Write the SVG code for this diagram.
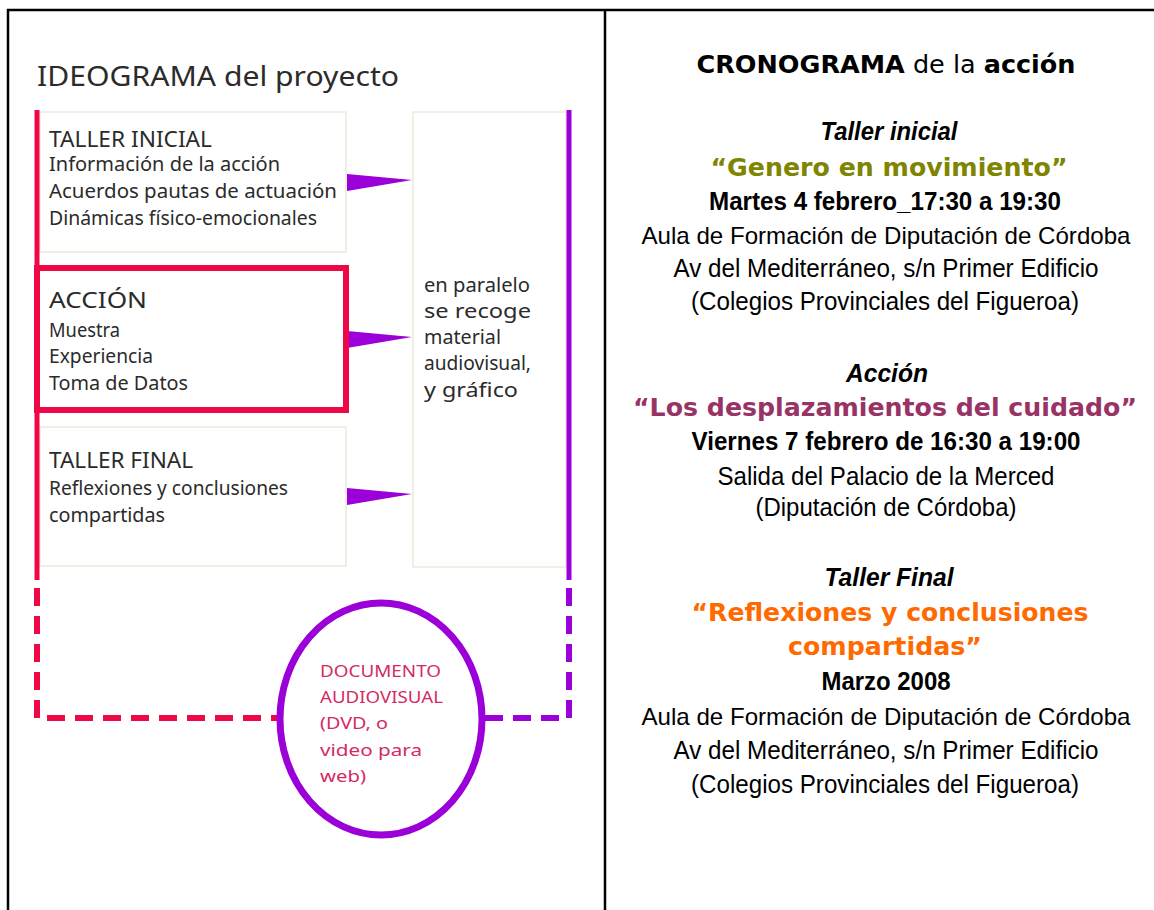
<svg xmlns="http://www.w3.org/2000/svg" width="1154" height="910" viewBox="0 0 1154 910">
<style>
  .frame{stroke:#000;stroke-width:2.5;fill:none}
  .box{fill:#fff;stroke:#ebeadb;stroke-width:1.5}
  .lt{font-family:"Noto Sans","DejaVu Sans",sans-serif;fill:#2b2b2b}
  .hd{font-size:22px}
  .bd{font-size:19px}
  .red{stroke:#ef0846;fill:none}
  .pur{stroke:#9b00d8;fill:none}
  .arrow{fill:#9b00d8}
  .doc{font-family:"Noto Sans","DejaVu Sans",sans-serif;font-size:17px;fill:#d42a63}
  .rt{font-family:"Liberation Sans Narrow","Liberation Sans",Arial,sans-serif;font-size:26px;fill:#000;text-anchor:middle}
  .long{font-size:24px}
  .b{font-weight:bold}
  .it{font-style:italic}
  .vd{font-family:"DejaVu Sans",Verdana,sans-serif;font-weight:bold;font-size:25px;text-anchor:middle}
</style>
<defs>
  <polygon id="tri" points="0,0 65,6 0,17"/>
</defs>
<g id="frame">
  <line class="frame" x1="7" y1="10" x2="1154" y2="10"/>
  <line class="frame" x1="8" y1="9" x2="8" y2="910"/>
  <line class="frame" x1="605" y1="9" x2="605" y2="910"/>
</g>
<g id="title">
  <text class="lt" x="37" y="86" font-size="28" textLength="362" lengthAdjust="spacingAndGlyphs">IDEOGRAMA del proyecto</text>
</g>
<g id="taller-inicial">
  <rect class="box" x="40" y="112" width="306" height="140"/>
  <text class="lt hd" x="49" y="147" textLength="163" lengthAdjust="spacingAndGlyphs">TALLER INICIAL</text>
  <text class="lt bd" x="49" y="171" textLength="231" lengthAdjust="spacingAndGlyphs">Información de la acción</text>
  <text class="lt bd" x="49" y="198" textLength="288" lengthAdjust="spacingAndGlyphs">Acuerdos pautas de actuación</text>
  <text class="lt bd" x="49" y="225" textLength="268" lengthAdjust="spacingAndGlyphs">Dinámicas físico-emocionales</text>
</g>
<g id="taller-final">
  <rect class="box" x="40" y="427" width="306" height="139"/>
  <text class="lt hd" x="49" y="468" textLength="144" lengthAdjust="spacingAndGlyphs">TALLER FINAL</text>
  <text class="lt bd" x="49" y="495" textLength="239" lengthAdjust="spacingAndGlyphs">Reflexiones y conclusiones</text>
  <text class="lt bd" x="49" y="522" textLength="116" lengthAdjust="spacingAndGlyphs">compartidas</text>
</g>
<g id="paralelo">
  <rect class="box" x="413" y="112" width="153" height="455"/>
  <text class="lt bd" x="424" y="292" textLength="106" lengthAdjust="spacingAndGlyphs">en paralelo</text>
  <text class="lt bd" x="424" y="318" textLength="107" lengthAdjust="spacingAndGlyphs">se recoge</text>
  <text class="lt bd" x="424" y="344" textLength="77" lengthAdjust="spacingAndGlyphs">material</text>
  <text class="lt bd" x="424" y="370" textLength="107" lengthAdjust="spacingAndGlyphs">audiovisual,</text>
  <text class="lt bd" x="424" y="397" textLength="94" lengthAdjust="spacingAndGlyphs">y gráfico</text>
</g>
<g id="connectors">
  <line class="red" x1="37" y1="110" x2="37" y2="580" stroke-width="5"/>
  <path class="red" d="M37,588 V718 H279" stroke-width="6" stroke-dasharray="18 10"/>
  <line class="pur" x1="569" y1="110" x2="569" y2="580" stroke-width="5"/>
  <path class="pur" d="M569,588 V718 H483" stroke-width="6" stroke-dasharray="18 10"/>
  <use href="#tri" class="arrow" x="347" y="174"/>
  <use href="#tri" class="arrow" x="347" y="331"/>
  <use href="#tri" class="arrow" x="347" y="488"/>
</g>
<g id="accion">
  <rect x="37" y="268" width="309" height="142" fill="#fff" stroke="#ef0846" stroke-width="6"/>
  <text class="lt hd" x="49" y="308" textLength="98" lengthAdjust="spacingAndGlyphs">ACCIÓN</text>
  <text class="lt bd" x="49" y="337" textLength="71" lengthAdjust="spacingAndGlyphs">Muestra</text>
  <text class="lt bd" x="49" y="363" textLength="104" lengthAdjust="spacingAndGlyphs">Experiencia</text>
  <text class="lt bd" x="49" y="390" textLength="139" lengthAdjust="spacingAndGlyphs">Toma de Datos</text>
</g>
<g id="documento">
  <ellipse cx="381" cy="719" rx="101" ry="116" fill="#fff" stroke="#9b00d8" stroke-width="7"/>
  <text class="doc" x="320" y="677" textLength="121" lengthAdjust="spacingAndGlyphs">DOCUMENTO</text>
  <text class="doc" x="320" y="703" textLength="123" lengthAdjust="spacingAndGlyphs">AUDIOVISUAL</text>
  <text class="doc" x="320" y="729" textLength="68" lengthAdjust="spacingAndGlyphs">(DVD, o</text>
  <text class="doc" x="320" y="756" textLength="102" lengthAdjust="spacingAndGlyphs">video para</text>
  <text class="doc" x="320" y="782" textLength="46" lengthAdjust="spacingAndGlyphs">web)</text>
</g>
<g id="cronograma">
  <text x="886" y="73" font-family="'DejaVu Sans',Verdana,sans-serif" font-size="24" text-anchor="middle" textLength="379" lengthAdjust="spacingAndGlyphs"><tspan font-weight="bold">CRONOGRAMA</tspan> de la <tspan font-weight="bold">acción</tspan></text>
</g>
<g id="sesion-inicial">
  <text class="rt it b" x="889" y="140" textLength="137" lengthAdjust="spacingAndGlyphs">Taller inicial</text>
  <text class="vd" x="889" y="176" fill="#7f8500" textLength="357" lengthAdjust="spacingAndGlyphs">“Genero en movimiento”</text>
  <text class="rt b" x="885" y="210" textLength="352" lengthAdjust="spacingAndGlyphs">Martes 4 febrero_17:30 a 19:30</text>
  <text class="rt long" x="886" y="244" textLength="489" lengthAdjust="spacingAndGlyphs">Aula de Formación de Diputación de Córdoba</text>
  <text class="rt" x="886" y="277" textLength="425" lengthAdjust="spacingAndGlyphs">Av del Mediterráneo, s/n Primer Edificio</text>
  <text class="rt" x="885" y="310" textLength="388" lengthAdjust="spacingAndGlyphs">(Colegios Provinciales del Figueroa)</text>
</g>
<g id="sesion-accion">
  <text class="rt it b" x="887" y="382" textLength="82" lengthAdjust="spacingAndGlyphs">Acción</text>
  <text class="vd" x="885" y="416" fill="#993366" textLength="504" lengthAdjust="spacingAndGlyphs">“Los desplazamientos del cuidado”</text>
  <text class="rt b" x="886" y="450" textLength="389" lengthAdjust="spacingAndGlyphs">Viernes 7 febrero de 16:30 a 19:00</text>
  <text class="rt" x="886" y="485" textLength="337" lengthAdjust="spacingAndGlyphs">Salida del Palacio de la Merced</text>
  <text class="rt" x="886" y="516" textLength="261" lengthAdjust="spacingAndGlyphs">(Diputación de Córdoba)</text>
</g>
<g id="sesion-final">
  <text class="rt it b" x="889" y="586" textLength="129" lengthAdjust="spacingAndGlyphs">Taller Final</text>
  <text class="vd" x="890" y="621" fill="#ff6a00" textLength="397" lengthAdjust="spacingAndGlyphs">“Reflexiones y conclusiones</text>
  <text class="vd" x="885" y="655" fill="#ff6a00" textLength="194" lengthAdjust="spacingAndGlyphs">compartidas”</text>
  <text class="rt b" x="886" y="690" textLength="129" lengthAdjust="spacingAndGlyphs">Marzo 2008</text>
  <text class="rt long" x="886" y="725" textLength="489" lengthAdjust="spacingAndGlyphs">Aula de Formación de Diputación de Córdoba</text>
  <text class="rt" x="886" y="759" textLength="425" lengthAdjust="spacingAndGlyphs">Av del Mediterráneo, s/n Primer Edificio</text>
  <text class="rt" x="885" y="793" textLength="388" lengthAdjust="spacingAndGlyphs">(Colegios Provinciales del Figueroa)</text>
</g>
</svg>
